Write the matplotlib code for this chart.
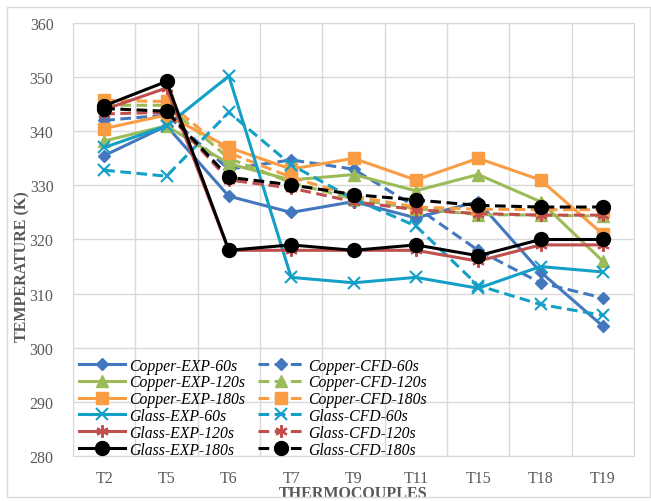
import numpy as np
import matplotlib
matplotlib.use('Agg')
import matplotlib.pyplot as plt
from matplotlib.patches import Rectangle

# thermocouple positions
categories = ['T2', 'T5', 'T6', 'T7', 'T9', 'T11', 'T15', 'T18', 'T19']

# temperatures (K)
copper_exp_60 = [335.5, 341.0, 328.0, 325.0, 327.0, 324.0, 327.0, 314.0, 304.0]
copper_cfd_60 = [342.0, 343.0, 333.0, 334.7, 333.0, 326.0, 318.0, 312.0, 309.2]
copper_exp_120 = [338.2, 341.0, 334.0, 331.0, 332.0, 329.0, 332.0, 327.0, 316.0]
copper_cfd_120 = [344.8, 344.8, 335.0, 330.5, 327.5, 325.7, 324.6, 324.5, 324.3]
copper_exp_180 = [340.5, 343.0, 337.0, 333.0, 335.0, 331.0, 335.0, 331.0, 321.0]
copper_cfd_180 = [345.7, 345.5, 336.0, 331.5, 328.0, 326.0, 325.6, 325.5, 325.5]
glass_exp_60 = [337.0, 341.0, 350.2, 313.0, 312.0, 313.0, 311.0, 315.0, 314.0]
glass_cfd_60 = [332.8, 331.7, 343.5, 333.8, 327.5, 322.5, 311.5, 308.0, 306.0]
glass_exp_120 = [344.0, 348.0, 318.0, 318.0, 318.0, 318.0, 316.0, 319.0, 319.0]
glass_cfd_120 = [343.2, 343.5, 331.0, 329.5, 327.0, 325.5, 324.8, 324.5, 324.5]
glass_exp_180 = [344.7, 349.2, 318.0, 319.0, 318.0, 319.0, 317.0, 320.0, 320.0]
glass_cfd_180 = [344.2, 343.7, 331.5, 330.1, 328.3, 327.3, 326.3, 326.0, 326.0]

# (label, values, colour, marker, marker size, linestyle)
series = [
    ('Copper-EXP-60s', copper_exp_60, '#4478BE', 'D', 6, '-'),
    ('Copper-CFD-60s', copper_cfd_60, '#4478BE', 'D', 6, '--'),
    ('Copper-EXP-120s', copper_exp_120, '#9BBB59', '^', 8, '-'),
    ('Copper-CFD-120s', copper_cfd_120, '#9BBB59', '^', 8, '--'),
    ('Copper-EXP-180s', copper_exp_180, '#F99D45', 's', 9, '-'),
    ('Copper-CFD-180s', copper_cfd_180, '#F99D45', 's', 9, '--'),
    ('Glass-EXP-60s', glass_exp_60, '#14A0C6', 'x', 9, '-'),
    ('Glass-CFD-60s', glass_cfd_60, '#14A0C6', 'x', 9, '--'),
    ('Glass-EXP-120s', glass_exp_120, '#C0504D', (6, 2, 0), 9, '-'),
    ('Glass-CFD-120s', glass_cfd_120, '#C0504D', (6, 2, 0), 9, '--'),
    ('Glass-EXP-180s', glass_exp_180, '#000000', 'o', 10, '-'),
    ('Glass-CFD-180s', glass_cfd_180, '#000000', 'o', 10, '--'),
]

plt.rcParams['font.family'] = ['Liberation Serif', 'DejaVu Serif']
grey = '#595959'

fig = plt.figure(figsize=(6.51, 5.02), dpi=100)
ax = fig.add_axes([73 / 651, 1 - 457 / 502, (634 - 73) / 651, (457 - 24) / 502])

# chart-area border
fig.patches.append(Rectangle((7 / 651, 4 / 502), 643 / 651, 490 / 502,
                             transform=fig.transFigure, fill=False,
                             edgecolor='#d9d9d9', linewidth=1))

x = np.arange(len(categories)) + 0.5
lines = []
for label, vals, color, marker, ms, ls in series:
    ln, = ax.plot(x, vals, color=color, linestyle=ls, linewidth=2.2,
                  marker=marker, markersize=ms,
                  markeredgewidth=1.5 if marker in ('x', (6, 2, 0)) else 1,
                  markerfacecolor=color, markeredgecolor=color, label=label,
                  dashes=(3.5, 1.8) if ls == '--' else (None, None))
    lines.append(ln)

ax.set_xlim(0, len(categories))
ax.set_ylim(280, 360)
ax.set_yticks(np.arange(280, 361, 10))
ax.set_xticks(x)
ax.set_xticklabels(categories)
ax.set_xticks(np.arange(0, len(categories) + 1), minor=True)
ax.grid(True, which='minor', axis='x', color='#d9d9d9', linewidth=1)
ax.grid(True, which='major', axis='y', color='#d9d9d9', linewidth=1)
ax.set_axisbelow(True)
ax.tick_params(which='both', length=0, labelsize=11.5, colors=grey)
ax.tick_params(axis='x', pad=10)
ax.tick_params(axis='y', pad=14)
for s in ax.spines.values():
    s.set_color('#d9d9d9')

ax.set_ylabel('TEMPERATURE (K)', fontsize=11.5, fontweight='bold', color=grey)
ax.yaxis.set_label_coords(-0.076, 0.44)
ax.set_xlabel('THERMOCOUPLES', fontsize=11.5, fontweight='bold', color=grey)
ax.xaxis.set_label_coords(0.5, -0.066)

# EXP in the left column, CFD in the right one
order = lines[0::2] + lines[1::2]
ax.legend(handles=order, ncol=2, loc='lower left', bbox_to_anchor=(0.0, -0.018),
          frameon=False, prop={'style': 'italic', 'size': 11.3},
          handlelength=2.9, handletextpad=0.3, columnspacing=0.8,
          labelspacing=0.05, borderaxespad=0.0)

fig.savefig('out.png', dpi=100)
